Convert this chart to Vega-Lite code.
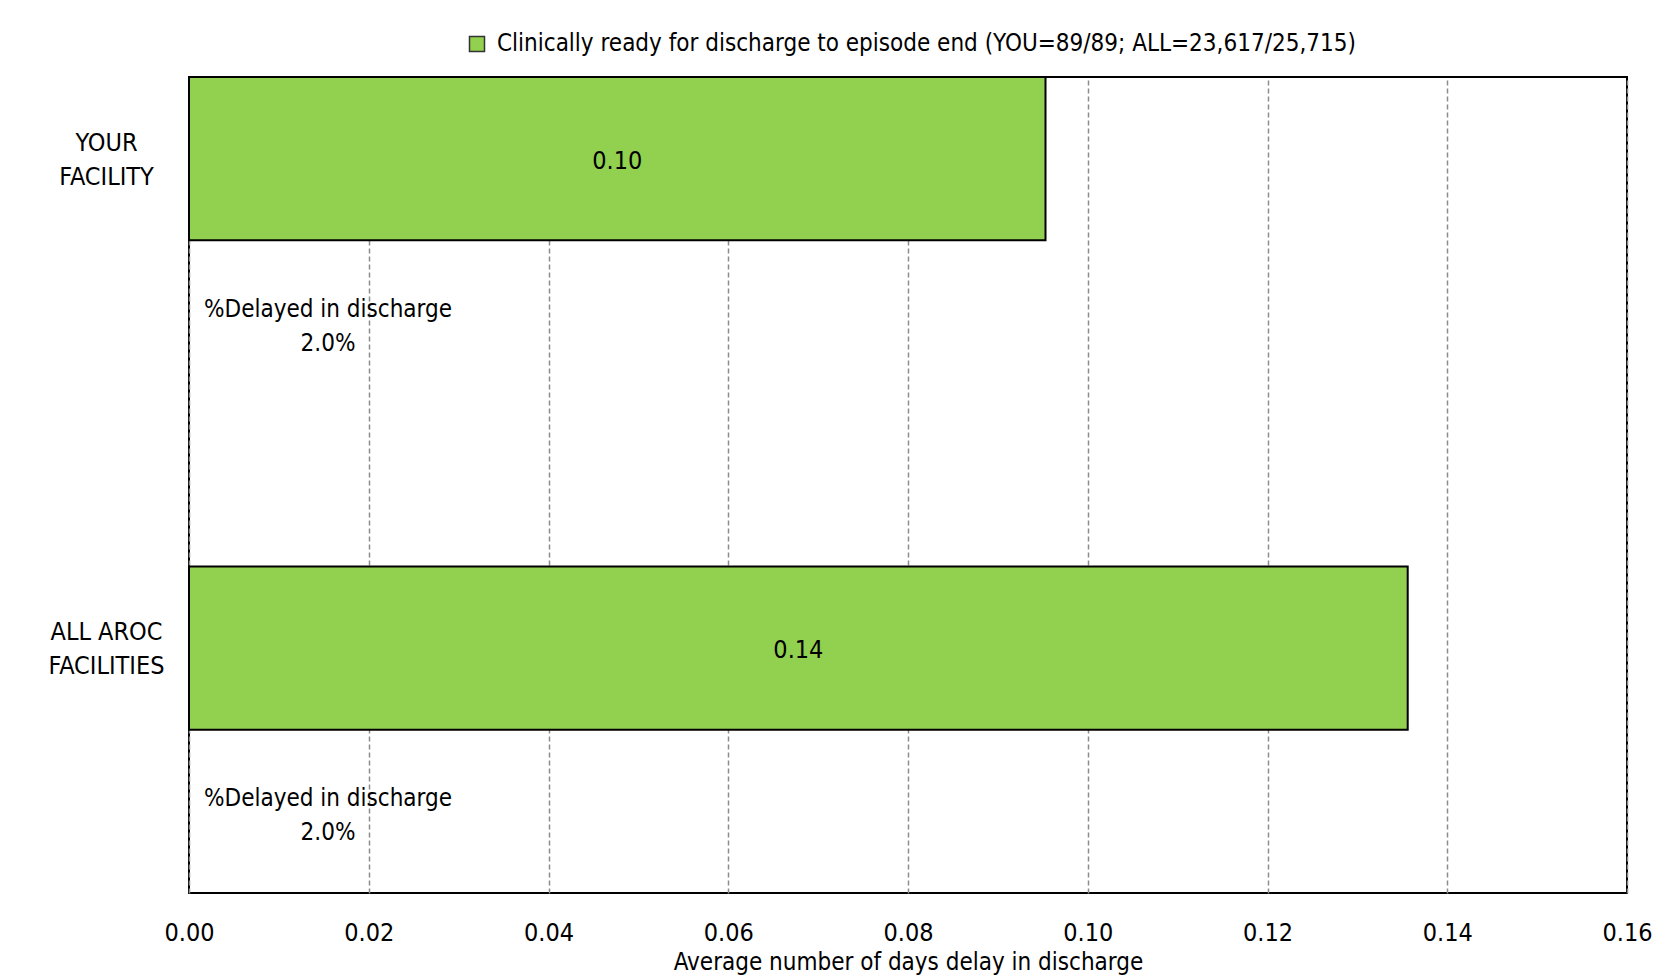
{
  "$schema": "https://vega.github.io/schema/vega-lite/v6.json",
  "width": 1438,
  "height": 816,
  "autosize": {"type": "none"},
  "padding": {"left": 189, "top": 77, "right": 46, "bottom": 83},
  "background": "white",
  "config": {
    "font": "'Liberation Sans Narrow', 'DejaVu Sans Condensed', 'Liberation Sans', sans-serif",
    "view": {"stroke": "black", "strokeWidth": 2}
  },
  "datasets": {
    "bars": [
      {"facility": "YOUR FACILITY", "days": 0.0953},
      {"facility": "ALL AROC FACILITIES", "days": 0.1356}
    ],
    "delays": [
      {"row": "YOUR FACILITY delay", "text": "%Delayed in discharge\n2.0%"},
      {"row": "ALL AROC FACILITIES delay", "text": "%Delayed in discharge\n2.0%"}
    ]
  },
  "encoding": {
    "y": {
      "field": "facility",
      "type": "nominal",
      "scale": {
        "domain": ["YOUR FACILITY", "YOUR FACILITY delay", "gap", "ALL AROC FACILITIES", "ALL AROC FACILITIES delay"],
        "paddingInner": 0,
        "paddingOuter": 0
      },
      "axis": {
        "title": null,
        "ticks": false,
        "domain": false,
        "labelFontSize": 25,
        "labelLineHeight": 34,
        "labelPadding": 83,
        "labelAlign": "center",
        "labelOffset": -16,
        "labelColor": "black",
        "labelLimit": 0,
        "labelExpr": "datum.value == 'YOUR FACILITY' ? ['YOUR', 'FACILITY'] : datum.value == 'ALL AROC FACILITIES' ? ['ALL AROC', 'FACILITIES'] : ''"
      }
    }
  },
  "layer": [
    {
      "data": {"name": "bars"},
      "mark": {"type": "bar", "stroke": "black", "strokeWidth": 2},
      "encoding": {
        "x": {
          "field": "days",
          "type": "quantitative",
          "scale": {"domain": [0, 0.16], "nice": false, "zero": true},
          "axis": {
            "values": [0, 0.02, 0.04, 0.06, 0.08, 0.1, 0.12, 0.14, 0.16],
            "format": ".2f",
            "grid": true,
            "gridDash": [5, 3],
            "gridColor": "#8c8c8c",
            "gridWidth": 1.5,
            "ticks": false,
            "domain": false,
            "labelFlush": false,
            "labelOverlap": false,
            "labelFontSize": 25,
            "labelPadding": 27,
            "labelColor": "black",
            "title": "Average number of days delay in discharge",
            "titleFontSize": 24,
            "titleFontWeight": "normal",
            "titleColor": "black",
            "titlePadding": 5
          }
        },
        "color": {
          "datum": "Clinically ready for discharge to episode end (YOU=89/89; ALL=23,617/25,715)",
          "type": "nominal",
          "scale": {"range": ["#92D050"]},
          "legend": {
            "orient": "none",
            "legendX": 276,
            "legendY": -45,
            "title": null,
            "padding": 0,
            "labelFontSize": 24,
            "labelColor": "black",
            "labelLimit": 0,
            "labelOffset": 8,
            "symbolType": "square",
            "symbolSize": 225,
            "symbolStrokeColor": "#333333",
            "symbolStrokeWidth": 1.5
          }
        }
      }
    },
    {
      "data": {"name": "bars"},
      "transform": [{"calculate": "datum.days / 2", "as": "mid"}],
      "mark": {"type": "text", "fontSize": 25, "color": "black", "baseline": "middle", "dy": 2},
      "encoding": {
        "x": {"field": "mid", "type": "quantitative"},
        "text": {"field": "days", "type": "quantitative", "format": ".2f"}
      }
    },
    {
      "data": {"name": "delays"},
      "mark": {"type": "text", "fontSize": 24, "color": "black", "lineBreak": "\n", "lineHeight": 34, "align": "center", "baseline": "middle", "dx": 139, "dy": -12},
      "encoding": {
        "x": {"datum": 0, "type": "quantitative"},
        "y": {"field": "row", "type": "nominal"},
        "text": {"field": "text", "type": "nominal"}
      }
    }
  ]
}
